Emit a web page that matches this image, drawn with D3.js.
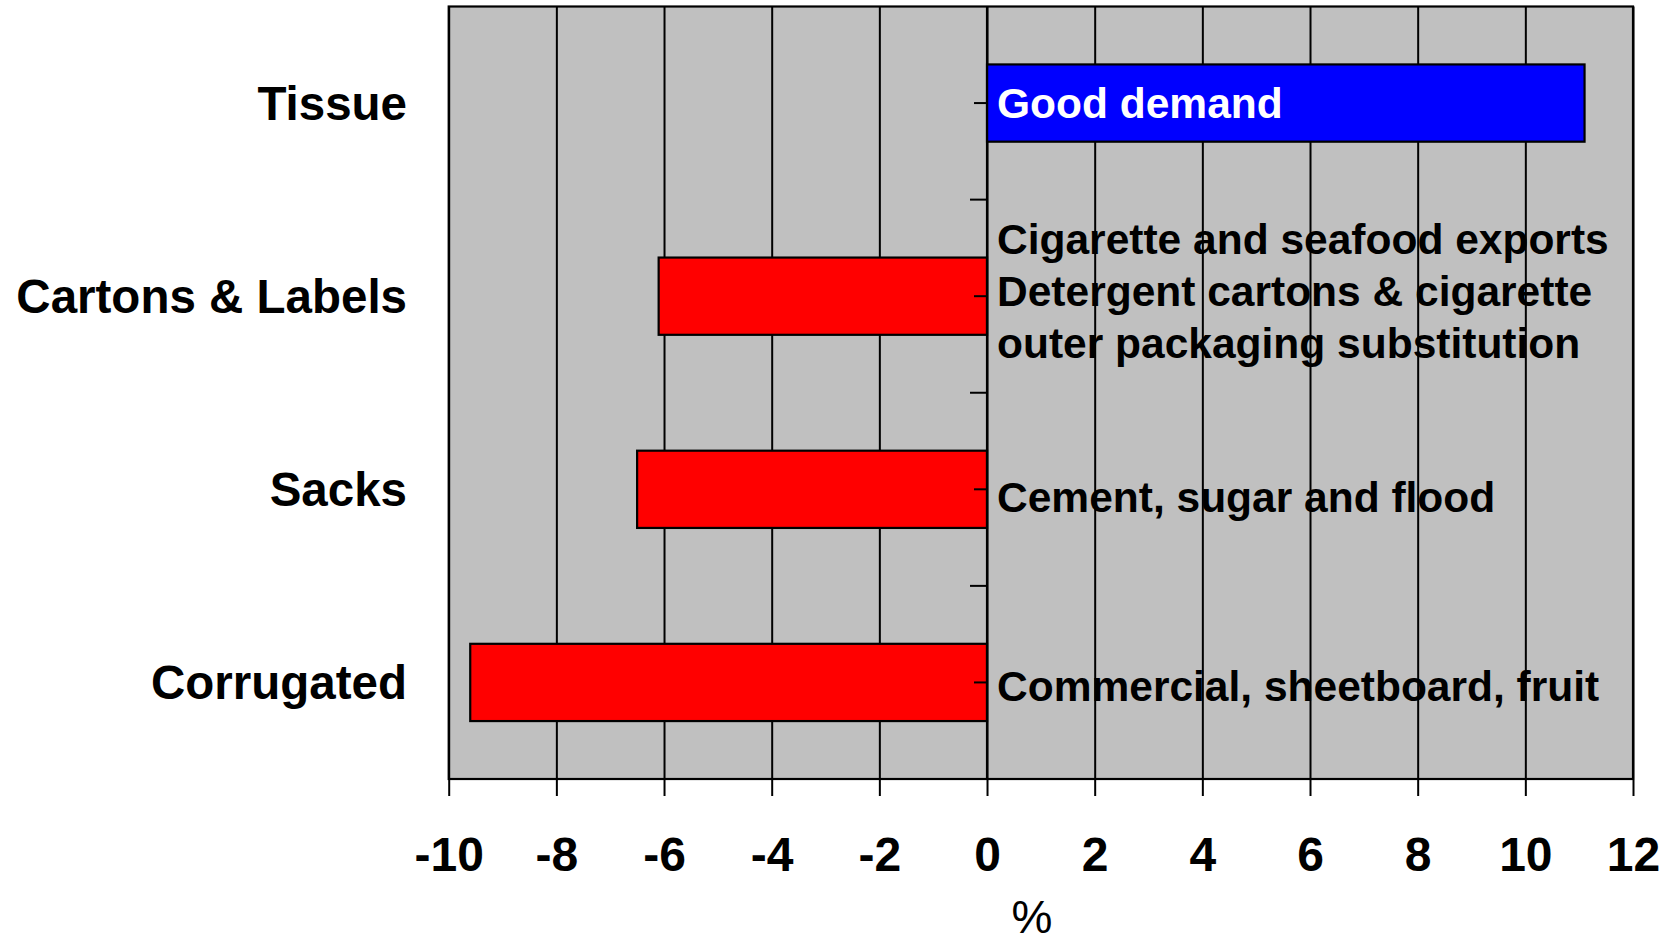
<!DOCTYPE html>
<html>
<head>
<meta charset="utf-8">
<script src="https://cdn.jsdelivr.net/npm/d3@7"></script>
<style>
  html, body { margin: 0; padding: 0; background: #fff; }
  svg { display: block; font-family: "Liberation Sans", Arial, sans-serif; }
</style>
</head>
<body>
<div class="chart"></div>
<script>
// data
const categories = ["Tissue", "Cartons & Labels", "Sacks", "Corrugated"];
const growth = [11.1, -6.1, -6.5, -9.6];
const notes = [
  ["Good demand"],
  ["Cigarette and seafood exports", "Detergent cartons & cigarette", "outer packaging substitution"],
  ["Cement, sugar and flood"],
  ["Commercial, sheetboard, fruit"]
];
const xTicks = [-10, -8, -6, -4, -2, 0, 2, 4, 6, 8, 10, 12];
const axisTitle = "%";

const W = 1673, H = 944;
const plotL = 448.7, plotR = 1633, plotT = 6.5, plotB = 779;

const svg = d3.select(".chart").append("svg")
  .attr("width", W)
  .attr("height", H);

const x = d3.scaleLinear().domain([-10, 12]).range([plotL, plotR]);
const y = d3.scaleBand().domain(categories).range([plotT, plotB])
  .paddingInner(0.6)
  .paddingOuter(0.3);
const step = y.step();
const half = (step - y.bandwidth()) / 2;

// plot background
svg.append("rect")
  .attr("x", plotL).attr("y", plotT)
  .attr("width", plotR - plotL).attr("height", plotB - plotT)
  .attr("fill", "#C0C0C0");

// vertical gridlines
svg.append("g")
  .attr("transform", `translate(0,${plotB})`)
  .call(d3.axisBottom(x).tickValues(xTicks).tickSize(-(plotB - plotT)).tickFormat(""))
  .call(g => g.select(".domain").remove())
  .call(g => g.selectAll("line").attr("stroke", "#000").attr("stroke-width", 2));

// bars
svg.append("g")
  .selectAll("rect")
  .data(categories)
  .join("rect")
  .attr("x", (d, i) => x(Math.min(0, growth[i])))
  .attr("y", d => y(d))
  .attr("width", (d, i) => Math.abs(x(growth[i]) - x(0)))
  .attr("height", y.bandwidth())
  .attr("fill", (d, i) => growth[i] >= 0 ? "#0000FF" : "#FF0000")
  .attr("stroke", "#000")
  .attr("stroke-width", 2.2);

// category axis sitting on zero
const yAxis = svg.append("g");
yAxis.append("line")
  .attr("x1", x(0)).attr("x2", x(0))
  .attr("y1", plotT).attr("y2", plotB)
  .attr("stroke", "#000").attr("stroke-width", 2.2);
// ticks at category centres
yAxis.selectAll(".mid")
  .data(categories)
  .join("line")
  .attr("class", "mid")
  .attr("x1", x(0) - 13).attr("x2", x(0))
  .attr("y1", d => y(d) + y.bandwidth() / 2)
  .attr("y2", d => y(d) + y.bandwidth() / 2)
  .attr("stroke", "#000").attr("stroke-width", 2);
// ticks at category boundaries
yAxis.selectAll(".edge")
  .data(categories.slice(1))
  .join("line")
  .attr("class", "edge")
  .attr("x1", x(0) - 17).attr("x2", x(0))
  .attr("y1", d => y(d) - half)
  .attr("y2", d => y(d) - half)
  .attr("stroke", "#000").attr("stroke-width", 2);

// category labels
svg.append("g")
  .selectAll("text")
  .data(categories)
  .join("text")
  .attr("x", 407)
  .attr("y", d => y(d) + y.bandwidth() / 2 + 17)
  .attr("text-anchor", "end")
  .style("font-size", "47.5px")
  .style("font-weight", "bold")
  .text(d => d);

// notes next to the bars
const noteShift = [14.6, -41.7, 22.7, 18.4];
const lineGap = 51.7;
const noteG = svg.append("g");
categories.forEach((c, i) => {
  const cy = y(c) + y.bandwidth() / 2;
  noteG.selectAll(null)
    .data(notes[i])
    .join("text")
    .attr("x", x(0) + 10)
    .attr("y", (d, j) => cy + noteShift[i] + j * lineGap)
    .style("font-size", "42.5px")
    .style("font-weight", "bold")
    .attr("fill", growth[i] >= 0 ? "#fff" : "#000")
    .text(d => d);
});

// x axis
svg.append("g")
  .attr("transform", `translate(0,${plotB})`)
  .call(d3.axisBottom(x).tickValues(xTicks).tickSize(17).tickPadding(41).tickFormat(d3.format("d")))
  .call(g => g.select(".domain").remove())
  .call(g => g.selectAll("line").attr("stroke", "#000").attr("stroke-width", 2))
  .call(g => g.selectAll("text")
    .attr("fill", "#000")
    .style("font-family", "'Liberation Sans', Arial, sans-serif")
    .style("font-size", "48px")
    .style("font-weight", "bold")
    .text(d => d < 0 ? "-" + Math.abs(d) : d));

svg.append("text")
  .attr("x", 1032)
  .attr("y", 933)
  .attr("text-anchor", "middle")
  .style("font-size", "46px")
  .text(axisTitle);

// plot border
svg.append("rect")
  .attr("x", plotL).attr("y", plotT)
  .attr("width", plotR - plotL).attr("height", plotB - plotT)
  .attr("fill", "none")
  .attr("stroke", "#000")
  .attr("stroke-width", 2.2);
</script>
</body>
</html>
